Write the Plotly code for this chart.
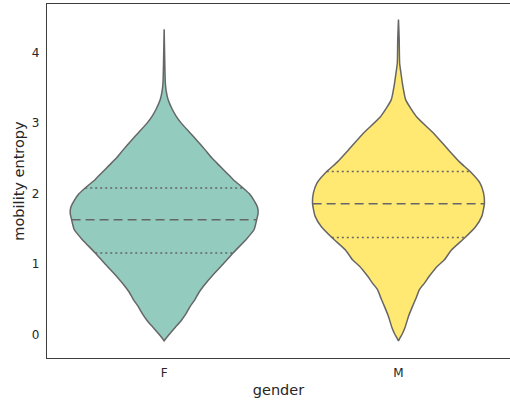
import numpy as np
import plotly.graph_objects as go

# ---- data ----
categories = ["F", "M"]
fill_colors = ["#93cbbf", "#ffe972"]

# violin profiles: value levels and half-widths (category units)
f_levels = [-0.09, -0.05, 0.0, 0.1, 0.2, 0.3, 0.4, 0.5, 0.6, 0.7, 0.85, 1.0, 1.157,
            1.35, 1.49, 1.63, 1.72, 1.8, 1.9, 2.0, 2.08, 2.2, 2.3, 2.4, 2.5, 2.62,
            2.75, 2.86, 3.0, 3.1, 3.2, 3.33, 3.45, 3.57, 3.8, 4.33]
f_halfwidth = [0.0, 0.009, 0.021, 0.047, 0.073, 0.094, 0.111, 0.132, 0.149, 0.171,
               0.209, 0.252, 0.294, 0.350, 0.384, 0.395, 0.401, 0.399, 0.384, 0.363,
               0.337, 0.294, 0.265, 0.235, 0.205, 0.175, 0.141, 0.111, 0.073, 0.051,
               0.034, 0.017, 0.009, 0.005, 0.003, 0.0]

m_levels = [-0.09, -0.05, 0.0, 0.1, 0.26, 0.4, 0.5, 0.64, 0.73, 0.83, 0.97, 1.06,
            1.2, 1.37, 1.53, 1.68, 1.865, 2.01, 2.15, 2.31, 2.45, 2.62, 2.86, 3.09,
            3.33, 3.56, 3.7, 3.85, 4.2, 4.47]
m_halfwidth = [0.0, 0.006, 0.015, 0.028, 0.043, 0.060, 0.073, 0.090, 0.111, 0.132,
               0.166, 0.196, 0.226, 0.282, 0.329, 0.356, 0.367, 0.363, 0.348, 0.307,
               0.260, 0.213, 0.149, 0.077, 0.031, 0.017, 0.011, 0.005, 0.003, 0.0]

# quartiles (Q1, median, Q3)
f_quartiles = [1.157, 1.63, 2.08]
m_quartiles = [1.378, 1.855, 2.313]

y_ticks = [0, 1, 2, 3, 4]

# ---- figure ----
fig = go.Figure()
line_col = "#666666"
profiles = [(f_levels, f_halfwidth, f_quartiles), (m_levels, m_halfwidth, m_quartiles)]

for i, (lv, hw, qs) in enumerate(profiles):
    lv = np.array(lv)
    hw = np.array(hw)
    xs = np.concatenate([i - hw, (i + hw)[::-1], [i - hw[0]]])
    ys = np.concatenate([lv, lv[::-1], [lv[0]]])
    fig.add_trace(go.Scatter(x=xs, y=ys, mode="lines", fill="toself",
                             fillcolor=fill_colors[i],
                             line=dict(color=line_col, width=1.5,
                                       shape="spline", smoothing=0.5),
                             hoverinfo="skip", showlegend=False))
    for k, q in enumerate(qs):
        w = float(np.interp(q, lv, hw))
        dash = "9px,5px" if k == 1 else "2px,3px"
        fig.add_trace(go.Scatter(x=[i - w, i + w], y=[q, q], mode="lines",
                                 line=dict(color=line_col, width=1.5, dash=dash),
                                 hoverinfo="skip", showlegend=False))

fig.update_layout(
    width=510, height=401,
    margin=dict(l=47, r=0, t=4, b=43),
    plot_bgcolor="white", paper_bgcolor="white",
    font=dict(family="DejaVu Sans", color="#262626", size=12),
    xaxis=dict(
        range=[-0.5, 1.476], tickvals=[0, 1], ticktext=categories,
        showgrid=False, zeroline=False, showline=True, linecolor="#3d3d3d",
        linewidth=1.3, mirror=True, ticks="", ticklabelstandoff=3,
        title=dict(text="gender", font=dict(size=14.5), standoff=6),
        tickfont=dict(size=12),
    ),
    yaxis=dict(
        range=[-0.333, 4.69], tickvals=y_ticks,
        showgrid=False, zeroline=False, showline=True, linecolor="#3d3d3d",
        linewidth=1.3, ticks="", ticklabelstandoff=4,
        title=dict(text="mobility entropy", font=dict(size=14.5), standoff=3),
        tickfont=dict(size=12),
    ),
)

fig.write_html("out.html")
